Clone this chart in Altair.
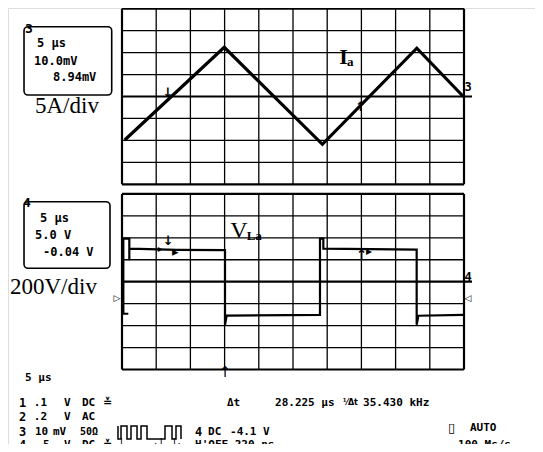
import altair as alt
import pandas as pd

# ---------------- data (x in time divisions, y in vertical divisions) ----------------
BOT = -8.437  # centre of the lower graticule relative to the upper one (divisions)

# channel 3 : inductor current Ia (upper panel)
ia_t = [0.08, 2.99, 5.86, 8.62, 9.98]
ia_v = [-1.98, 2.24, -2.18, 2.20, 0.0]

# channel 4 : inductor voltage VLa (lower panel)
vla_t = [0.185, 0.039, 0.039, 0.214, 0.214, 0.214, 0.234, 1.60, 3.012, 3.012, 3.06,
         5.789, 5.789, 5.887, 5.887, 8.616, 8.616, 8.665, 9.98]
vla_v = [-1.46, -1.46, 1.96, 1.96, 0.98, 1.51, 1.51, 1.45, 1.435, -1.96, -1.55,
         -1.51, 1.96, 1.96, 1.51, 1.465, -1.96, -1.55, -1.51]

# small square-wave glyph in the status area
icon_t = [-0.117, -0.117, -0.029, -0.029, 0.146, 0.146, 0.263, 0.263, 0.439, 0.439,
          0.556, 0.556, 0.731, 0.731, 1.257, 1.257, 1.462, 1.462, 1.579, 1.579, 1.725, 1.725]
icon_v = ["H", "L", "L", "H", "H", "L", "L", "H", "H", "L",
          "L", "H", "H", "L", "L", "H", "H", "L", "L", "H", "H", "L"]
ICON_H, ICON_L = -15.01, -15.60

# readout boxes
box_x = [-2.865, -2.865]
box_x2 = [-0.301, -0.351]
box_y = [3.180, -4.793]
box_y2 = [0.068, -7.827]

# text annotations: (text, x, y, size, font, weight, align)
MONO = "DejaVu Sans Mono"
SERIF = "Liberation Serif"
SANS = "DejaVu Sans"
R1, R2, R3, R4 = -13.977, -14.588, -15.271, -15.86
texts = [
    ("3", -2.72, 3.075, 13, MONO, "bold", "center"),
    ("5 μs", -2.485, 2.437, 12, MONO, "bold", "left"),
    ("10.0mV", -2.573, 1.617, 12, MONO, "bold", "left"),
    ("8.94mV", -2.018, 0.888, 12, MONO, "bold", "left"),
    ("5A/div", -2.544, -0.433, 23, SERIF, "normal", "left"),
    ("4", -2.778, -4.852, 13, MONO, "bold", "center"),
    ("5 μs", -2.398, -5.549, 12, MONO, "bold", "left"),
    ("5.0 V", -2.544, -6.310, 12, MONO, "bold", "left"),
    ("-0.04 V", -2.310, -7.071, 12, MONO, "bold", "left"),
    ("200V/div", -3.275, -8.665, 23, SERIF, "normal", "left"),
    ("I", 6.477, 1.777, 22, SERIF, "bold", "center"),
    ("a", 6.58, 1.55, 13, SERIF, "bold", "left"),
    ("V", 3.421, -6.105, 24, SERIF, "normal", "center"),
    ("La", 3.646, -6.36, 13, SERIF, "bold", "left"),
    ("3", 10.117, 0.446, 12, MONO, "bold", "center"),
    ("4", 10.117, -8.237, 12, MONO, "bold", "center"),
    ("↓", 1.345, 0.16, 13, SANS, "bold", "center"),
    ("↑", 6.98, -0.478, 13, SANS, "bold", "center"),
    ("↓", 1.354, -6.583, 13, SANS, "bold", "center"),
    ("↑", 7.01, -7.22, 13, SANS, "bold", "center"),
    ("▸", 1.12, -6.96, 10, SANS, "normal", "center"),
    ("▸", 1.56, -7.10, 13, SANS, "normal", "center"),
    ("▸", 7.22, -7.05, 12, SANS, "normal", "center"),
    ("▷", -0.146, -9.18, 9, SANS, "normal", "center"),
    ("◁", 10.117, -9.18, 9, SANS, "normal", "center"),
    ("↑", 3.012, -12.55, 15, SANS, "normal", "center"),
    ("5 μs", -2.836, -12.838, 11, MONO, "bold", "left"),
    ("1", -3.01, R1, 12, MONO, "bold", "left"),
    (".1", -2.58, R1, 11, MONO, "bold", "left"),
    ("V", -1.696, R1, 11, MONO, "bold", "left"),
    ("DC", -1.170, R1, 11, MONO, "bold", "left"),
    ("≚", -0.556, R1, 11, SANS, "bold", "left"),
    ("Δt", 3.070, R1, 11, MONO, "bold", "left"),
    ("28.225 μs", 4.474, R1, 11, MONO, "bold", "left"),
    ("⅟Δt", 6.462, R1, 8, SANS, "bold", "left"),
    ("35.430 kHz", 7.05, R1, 11, MONO, "bold", "left"),
    ("2", -3.01, R2, 12, MONO, "bold", "left"),
    (".2", -2.58, R2, 11, MONO, "bold", "left"),
    ("V", -1.696, R2, 11, MONO, "bold", "left"),
    ("AC", -1.170, R2, 11, MONO, "bold", "left"),
    ("3", -3.01, R3, 12, MONO, "bold", "left"),
    ("10", -2.544, R3, 11, MONO, "bold", "left"),
    ("mV", -2.018, R3, 11, MONO, "bold", "left"),
    ("50Ω", -1.228, R3, 10, MONO, "bold", "left"),
    ("4", 2.135, R3, 12, MONO, "bold", "left"),
    ("DC", 2.515, R3, 11, MONO, "bold", "left"),
    ("-4.1 V", 3.158, R3, 11, MONO, "bold", "left"),
    ("▯", 9.532, -15.103, 13, SANS, "bold", "left"),
    ("AUTO", 10.175, -15.103, 11, MONO, "bold", "left"),
    ("4", -3.01, R4, 12, MONO, "bold", "left"),
    ("5", -2.310, R4, 11, MONO, "bold", "left"),
    ("V", -1.696, R4, 11, MONO, "bold", "left"),
    ("DC", -1.170, R4, 11, MONO, "bold", "left"),
    ("≚", -0.556, R4, 11, SANS, "bold", "left"),
    ("├────→┤ ├←", -0.117, R4, 11, MONO, "bold", "left"),
    ("H'OFF 220 ns", 2.135, R4, 11, MONO, "bold", "left"),
    ("100 Ms/s", 9.825, R4, 11, MONO, "bold", "left"),
]

# ---------------- tables ----------------
grid_rows = []
for off in (0.0, BOT):
    for c in range(11):
        grid_rows.append(dict(x=c, x2=c, y=-4 + off, y2=4 + off,
                              w=2.2 if c in (0, 10) else 1.3))
    for r in range(-4, 5):
        grid_rows.append(dict(x=0, x2=10.234 if r == 0 else 10, y=r + off, y2=r + off,
                              w=2.2 if r in (-4, 4, 0) else 1.3))
grid = pd.DataFrame(grid_rows)

ia = pd.DataFrame({"t": ia_t, "v": ia_v, "i": range(len(ia_t))})
vla = pd.DataFrame({"t": vla_t, "v": [v + BOT for v in vla_v], "i": range(len(vla_t))})
icon = pd.DataFrame({"t": icon_t, "v": [ICON_H if s == "H" else ICON_L for s in icon_v],
                     "i": range(len(icon_t))})
boxes = pd.DataFrame({"x": box_x, "x2": box_x2, "y": box_y, "y2": box_y2})
tdf = pd.DataFrame(texts, columns=["text", "x", "y", "size", "font", "weight", "align"])

XS = alt.Scale(domain=[-3.3333, 12.076], nice=False, zero=False)
YS = alt.Scale(domain=[-15.8314, 4.0319], nice=False, zero=False)

layers = []
layers.append(
    alt.Chart(grid).mark_rule(color="black").encode(
        x=alt.X("x:Q", scale=XS, axis=None), x2="x2:Q",
        y=alt.Y("y:Q", scale=YS, axis=None), y2="y2:Q",
        size=alt.Size("w:Q", scale=None, legend=None),
    )
)
layers.append(
    alt.Chart(boxes).mark_rect(fill="white", fillOpacity=0, stroke="black",
                               strokeWidth=1.6, cornerRadius=4).encode(
        x=alt.X("x:Q", scale=XS, axis=None), x2="x2:Q",
        y=alt.Y("y:Q", scale=YS, axis=None), y2="y2:Q",
    )
)
for df, sw in ((ia, 3.2), (vla, 2.2), (icon, 1.5)):
    layers.append(
        alt.Chart(df).mark_line(color="black", strokeWidth=sw, strokeJoin="miter").encode(
            x=alt.X("t:Q", scale=XS, axis=None),
            y=alt.Y("v:Q", scale=YS, axis=None),
            order=alt.Order("i:Q"),
        )
    )
for (font, weight, align), g in tdf.groupby(["font", "weight", "align"]):
    layers.append(
        alt.Chart(g.reset_index(drop=True)).mark_text(
            font=font, fontWeight=weight, align=align, baseline="middle", color="black"
        ).encode(
            x=alt.X("x:Q", scale=XS, axis=None),
            y=alt.Y("y:Q", scale=YS, axis=None),
            text="text:N",
            size=alt.Size("size:Q", scale=None, legend=None),
        )
    )

chart = alt.layer(*layers).properties(
    width=527, height=436, padding=0,
    autosize=alt.AutoSizeParams(type="none"),
).configure_view(strokeWidth=0).configure(background="white")

chart.save("out.html", embed_options={"renderer": "svg", "actions": False})
